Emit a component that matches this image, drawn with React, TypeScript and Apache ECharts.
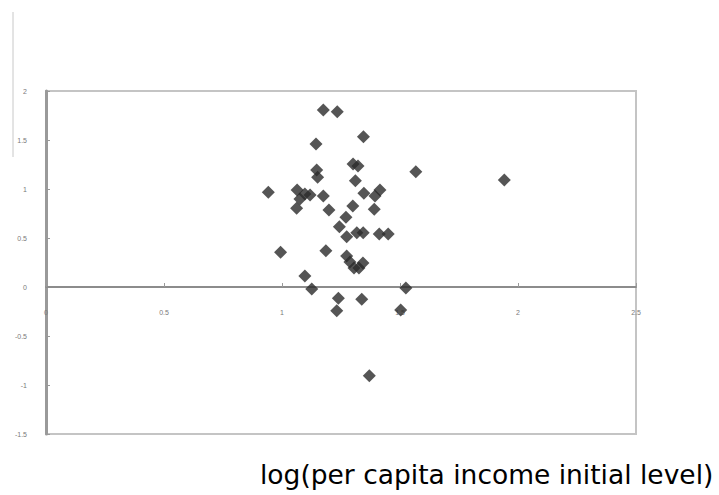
import React, { useEffect, useRef } from "react";
import * as echarts from "echarts";

// x: log(per capita income initial level), y: growth measure
const xValues: number[] = [
  1.175, 1.234, 1.345, 1.144, 1.301, 1.322, 1.567, 1.942, 1.147, 1.151,
  1.311, 0.942, 1.064, 1.097, 1.119, 1.076, 1.062, 1.175, 1.347, 1.394,
  1.415, 1.199, 1.300, 1.391, 1.271, 1.243, 1.274, 1.317, 1.344, 1.412,
  1.450, 0.994, 1.186, 1.274, 1.288, 1.305, 1.326, 1.343, 1.097, 1.126,
  1.525, 1.239, 1.338, 1.232, 1.503, 1.370,
];
const yValues: number[] = [
  1.806, 1.789, 1.534, 1.459, 1.255, 1.235, 1.177, 1.092, 1.194, 1.119,
  1.085, 0.966, 0.990, 0.949, 0.939, 0.898, 0.803, 0.929, 0.956, 0.929,
  0.990, 0.786, 0.827, 0.793, 0.711, 0.615, 0.513, 0.554, 0.554, 0.541,
  0.541, 0.354, 0.370, 0.316, 0.255, 0.194, 0.194, 0.245, 0.112, -0.020,
  -0.010, -0.115, -0.126, -0.242, -0.235, -0.905,
];
const xTickLabels: string[] = ["0", "0.5", "1", "1.5", "2", "2.5"];
const yTickLabels: string[] = ["-1.5", "-1", "-0.5", "0", "0.5", "1", "1.5", "2"];
const xAxisTitle = "log(per capita income initial level)";

export default function App() {
  const ref = useRef<HTMLDivElement>(null);
  useEffect(() => {
    if (!ref.current) return;
    const chart = echarts.init(ref.current, undefined, { renderer: "svg" });
    const data = xValues.map((x, i) => [x, yValues[i]]);
    chart.setOption({
      animation: false,
      backgroundColor: "#ffffff",
      grid: {
        left: 46,
        top: 91,
        width: 590,
        height: 343,
        show: true,
        borderColor: "#c4c4c4",
        borderWidth: 2,
        backgroundColor: "#ffffff",
      },
      xAxis: {
        type: "value",
        min: 0,
        max: 2.5,
        interval: 0.5,
        z: 1,
        axisLine: { onZero: true, lineStyle: { color: "#8c8c8c", width: 2 } },
        axisTick: { show: true, inside: true, length: 4, lineStyle: { color: "#999" } },
        axisLabel: {
          margin: -125,
          fontSize: 7,
          color: "#7a7a7a",
          fontFamily: "Liberation Sans",
          showMinLabel: true,
          showMaxLabel: true,
          hideOverlap: false,
          formatter: (v: number) => {
            const i = Math.round(v / 0.5);
            return xTickLabels[i] ?? "";
          },
        },
        splitLine: { show: false },
      },
      yAxis: {
        type: "value",
        min: -1.5,
        max: 2,
        interval: 0.5,
        z: 0,
        axisLine: { show: true, onZero: false, lineStyle: { color: "#9a9a9a", width: 3 } },
        axisTick: { show: true, inside: true, length: 4, lineStyle: { color: "#999" } },
        axisLabel: {
          margin: 19,
          fontSize: 7,
          color: "#7a7a7a",
          fontFamily: "Liberation Sans",
          formatter: (v: number) => {
            const i = Math.round((v + 1.5) / 0.5);
            return yTickLabels[i] ?? "";
          },
        },
        splitLine: { show: false },
      },
      series: [
        {
          type: "scatter",
          data,
          symbol: "diamond",
          symbolSize: 13,
          z: 3,
          itemStyle: { color: "#2a2a2a" },
        },
      ],
      graphic: [
        {
          type: "line",
          shape: { x1: 13, y1: 12, x2: 13, y2: 157 },
          style: { stroke: "#c8c8c8", lineWidth: 1 },
        },
        {
          type: "text",
          x: 260,
          y: 488,
          style: {
            text: xAxisTitle,
            fontSize: 26.5,
            fontFamily: "DejaVu Sans",
            fill: "#000000",
            verticalAlign: "bottom",
          },
        },
      ],
    });
    return () => chart.dispose();
  }, []);
  return (
    <div
      ref={ref}
      style={{ position: "fixed", left: 0, top: 0, width: 719, height: 495 }}
    />
  );
}
